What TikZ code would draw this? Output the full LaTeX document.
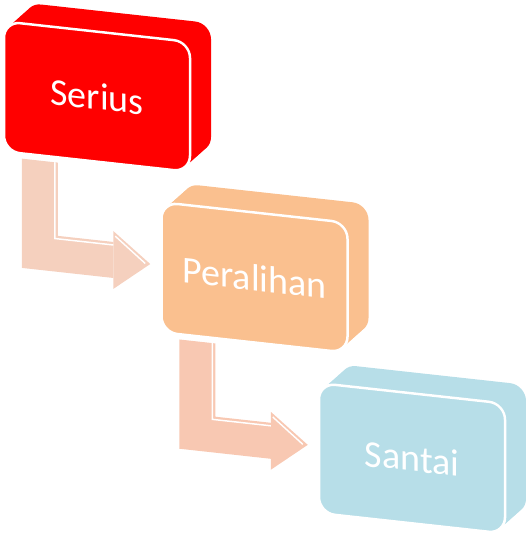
\documentclass[tikz,border=0pt]{standalone}
\usepackage{fontspec}
\setmainfont{Carlito}
\usetikzlibrary{arrows.meta, positioning, shadows}

\definecolor{seriusred}{HTML}{FF0000}
\definecolor{peralihanorange}{HTML}{FAC08F}
\definecolor{santaiblue}{HTML}{B7DEE8}
\definecolor{arrowpink}{HTML}{F5D0BE}
\definecolor{arrowsalmon}{HTML}{F8C8B2}

\begin{document}
\begin{tikzpicture}[
    x=1pt, y=-1pt,
    node distance=31pt and -31pt,
    layer/.style 2 args={general shadow={shadow xshift=#2pt, shadow yshift=#2pt, fill=#1, draw=none}},
    box/.style={rectangle, rounded corners=16pt, minimum width=186pt, minimum height=130pt, fill=#1, draw=white, line width=2.5pt, text=white, font=\fontsize{38}{40}\selectfont,
        layer={#1}{21}, layer={#1}{18}, layer={#1}{15}, layer={#1}{12}, layer={#1}{9}, layer={#1}{6}, layer={#1}{3}},
    bendarrow/.style={draw=#1, line width=36pt, -{Triangle[length=37pt, width=58pt, line width=0pt]}},
    glint/.style={draw=white, line width=1.5pt}
    ]

    \useasboundingbox (0,0) rectangle (526,538);

    \begin{scope}[transform canvas={yslant=-0.11}]
    \node[box=seriusred] (serius) at (97,86) {Serius};
    \node[box=peralihanorange, below right=of serius] (peralihan) {Peralihan};
    \node[box=santaiblue, below right=of peralihan] (santai) {Santai};

    % bent arrows between the boxes
    \draw[bendarrow=arrowpink] ([xshift=37pt, yshift=-4pt]serius.south west) |- ([xshift=-10pt, yshift=2pt]peralihan.west);
    \draw[glint] ([xshift=52pt, yshift=-4pt]serius.south west) |- ([xshift=-47pt, yshift=17pt]peralihan.west);
    \draw[glint] ([xshift=-45pt, yshift=26pt]peralihan.west) -- ([xshift=-15pt, yshift=2pt]peralihan.west);

    \draw[bendarrow=arrowsalmon] ([xshift=37pt, yshift=-4pt]peralihan.south west) |- ([xshift=-10pt, yshift=2pt]santai.west);
    \draw[glint] ([xshift=52pt, yshift=-4pt]peralihan.south west) |- ([xshift=-47pt, yshift=17pt]santai.west);
    \draw[glint] ([xshift=-45pt, yshift=26pt]santai.west) -- ([xshift=-15pt, yshift=2pt]santai.west);
    \end{scope}

\end{tikzpicture}
\end{document}
